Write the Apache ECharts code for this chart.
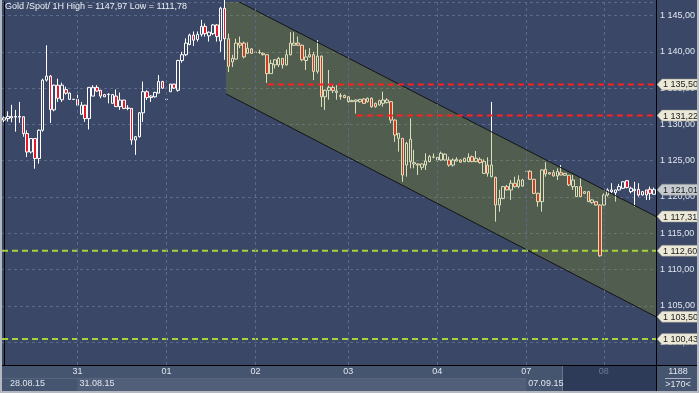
<!DOCTYPE html>
<html><head><meta charset="utf-8">
<script src="https://cdn.jsdelivr.net/npm/echarts@6/dist/echarts.min.js"></script>
<style>html,body{margin:0;padding:0;background:#3a4767;}#c{width:699px;height:393px;}</style>
</head><body><div id="c"></div>
<script>
const titleText = 'Gold /Spot/ 1H High = 1147,97 Low = 1111,78';
const dayNames = ['28','31','01','02','03','04','07','08'];
const dayStarts = [0,19,42,65,89,112,135,155];
const weekStarts = [0,19,135];
const weekLabels = ['28.08.15','31.08.15','07.09.15'];
const yMin = 1096.86, yMax = 1146.86;

const opens = [1130.6,1130.8,1131.1,1131.0,1131.0,1131.05,1128.75,1126.2,1128.05,1125.3,
1129.2,1136.1,1136.65,1132.0,1135.4,1133.4,1134.8,1133.45,1133.45,1133.45,
1131.4,1132.65,1130.8,1133.9,1135.1,1134.7,1133.8,1134.15,1132.9,1133.9,
1132.45,1133.35,1132.2,1132.2,1127.85,1128.3,1131.6,1134.5,1133.7,1133.8,
1134.3,1135.9,1133.45,1134.5,1135.55,1134.7,1138.8,1139.6,1141.0,1142.3,
1141.7,1142.4,1143.5,1142.2,1142.5,1143.7,1141.5,1146.0,1141.8,1138.6,
1139.0,1141.2,1141.2,1139.8,1140.4,1139.9,1139.9,1139.8,1139.6,1137.0,
1138.2,1138.2,1139.1,1138.2,1139.6,1140.9,1141.2,1140.9,1138.8,1139.3,
1139.6,1137.3,1139.4,1133.8,1134.7,1135.1,1134.4,1133.85,1134.0,1133.8,
1133.13,1133.18,1133.13,1133.5,1133.13,1133.6,1132.9,1132.67,1132.9,1133.0,
1133.13,1130.6,1128.08,1128.08,1124.4,1124.87,1124.55,1124.55,1124.09,1124.4,
1124.87,1125.5,1125.1,1125.1,1125.1,1125.1,1124.4,1124.96,1125.1,1124.87,
1124.87,1125.56,1124.87,1125.19,1123.26,1124.4,1122.8,1122.71,1118.9,1119.8,
1121.43,1120.97,1121.9,1121.43,1121.5,1123.54,1123.54,1122.44,1120.5,1119.36,
1123.81,1123.17,1123.35,1122.9,1123.35,1122.99,1122.99,1121.43,1120.05,1121.43,
1120.5,1120.74,1119.22,1119.36,1118.9,1118.9,1120.28,1120.74,1120.6,1120.97,
1121.2,1122.25,1120.74,1120.88,1121.06,1120.28,1120.97,1121.06,1120.37];
const highs = [1131.1,1131.8,1132.7,1132.0,1133.1,1131.1,1129.2,1128.1,1128.1,1129.3,
1136.3,1140.9,1136.8,1135.5,1136.3,1135.75,1135.2,1134.4,1133.5,1134.5,
1133.1,1132.7,1135.1,1135.4,1135.4,1134.7,1134.2,1134.3,1134.2,1134.8,
1134.4,1133.4,1132.65,1132.2,1128.4,1131.7,1135.9,1134.7,1134.0,1134.5,
1136.8,1136.0,1133.5,1135.6,1135.6,1138.9,1140.0,1141.85,1142.5,1142.8,
1142.8,1144.4,1143.9,1142.8,1143.8,1143.8,1146.2,1147.97,1142.5,1139.6,
1141.8,1142.1,1141.4,1141.3,1140.5,1140.0,1140.3,1139.9,1139.6,1138.9,
1139.0,1139.3,1139.1,1140.3,1142.7,1142.7,1142.1,1141.0,1140.3,1140.5,
1140.0,1141.6,1139.5,1134.8,1137.5,1135.4,1135.4,1134.3,1134.1,1133.9,
1133.4,1133.4,1133.5,1133.6,1133.7,1133.7,1133.0,1133.4,1134.5,1133.6,
1133.2,1130.7,1128.8,1128.1,1127.6,1130.84,1126.5,1124.6,1124.6,1126.02,
1125.79,1126.0,1125.5,1126.25,1126.0,1125.56,1125.33,1125.47,1125.2,1125.4,
1126.02,1125.7,1126.34,1125.47,1125.19,1125.47,1133.1,1122.8,1121.0,1121.5,
1121.66,1122.34,1122.8,1123.0,1122.5,1123.6,1123.7,1122.5,1120.6,1123.8,
1124.8,1123.4,1123.72,1123.95,1124.4,1123.3,1123.0,1123.03,1121.5,1122.57,
1120.8,1120.8,1119.7,1119.4,1119.0,1120.5,1121.2,1121.9,1121.0,1121.8,
1122.15,1122.35,1121.43,1122.1,1121.9,1120.8,1121.0,1121.43,1121.3];
const lows = [1130.3,1130.4,1130.3,1129.0,1130.2,1128.3,1125.5,1126.0,1123.9,1124.6,
1129.0,1135.9,1130.2,1131.8,1133.1,1133.1,1134.1,1133.4,1133.4,1132.45,
1131.3,1130.35,1129.3,1133.9,1134.5,1133.6,1133.8,1132.9,1132.9,1132.4,
1132.0,1132.1,1131.95,1127.2,1125.8,1128.2,1130.35,1133.35,1133.1,1133.7,
1134.3,1134.9,1133.4,1134.5,1134.9,1134.5,1138.5,1139.4,1140.9,1140.8,
1141.4,1142.1,1142.1,1141.4,1142.3,1141.4,1140.0,1138.9,1137.2,1137.9,
1138.9,1140.5,1139.1,1139.7,1139.7,1139.9,1139.7,1139.5,1135.7,1137.0,
1137.7,1137.9,1137.7,1138.1,1139.5,1140.8,1140.8,1138.7,1137.5,1139.2,
1136.1,1137.0,1132.4,1132.0,1133.4,1134.3,1133.4,1133.4,1133.6,1133.0,
1133.1,1131.5,1133.0,1132.8,1133.0,1132.3,1132.3,1132.6,1132.44,1132.9,
1130.15,1127.6,1126.25,1122.1,1122.8,1123.95,1123.95,1123.03,1123.72,1123.72,
1124.8,1125.33,1124.87,1125.0,1125.0,1124.18,1124.18,1124.9,1124.7,1124.8,
1124.8,1124.8,1124.8,1124.6,1123.2,1122.8,1122.7,1116.6,1117.98,1119.7,
1120.9,1119.6,1121.3,1121.2,1121.4,1123.5,1122.4,1120.4,1118.67,1117.98,
1122.8,1123.1,1122.8,1122.34,1123.0,1122.9,1121.5,1120.97,1120.0,1120.0,
1120.4,1119.3,1119.1,1118.8,1111.78,1118.8,1120.05,1120.5,1119.36,1120.9,
1121.1,1121.2,1120.5,1118.67,1120.05,1120.2,1119.6,1119.6,1120.3];
const closes = [1130.9,1131.1,1130.9,1131.1,1131.1,1128.75,1126.2,1128.05,1125.3,1129.2,
1136.1,1136.65,1132.05,1135.4,1133.6,1135.4,1134.3,1134.3,1133.45,1132.65,
1132.65,1130.8,1135.1,1135.1,1134.6,1133.9,1134.1,1134.1,1134.1,1132.45,
1133.35,1132.2,1132.25,1127.85,1128.3,1131.6,1134.5,1133.7,1133.9,1134.4,
1135.9,1135.0,1133.45,1135.55,1135.0,1138.8,1139.6,1141.2,1142.3,1141.6,
1142.4,1143.5,1142.5,1142.7,1143.7,1142.1,1146.0,1141.8,1138.0,1139.1,
1141.2,1140.9,1139.3,1140.5,1139.8,1139.95,1139.9,1139.6,1137.0,1138.4,
1138.9,1139.1,1138.2,1139.6,1141.2,1141.2,1140.9,1138.9,1139.3,1139.6,
1137.3,1139.4,1133.8,1134.7,1135.1,1134.65,1134.6,1134.0,1133.7,1133.13,
1133.27,1133.36,1133.45,1132.9,1133.6,1132.44,1132.44,1133.27,1133.36,1133.36,
1130.6,1128.54,1128.77,1123.03,1127.4,1127.95,1124.73,1124.4,1124.55,1124.96,
1125.56,1125.5,1125.47,1126.02,1125.9,1124.4,1125.1,1125.19,1124.8,1125.33,
1125.47,1124.87,1125.33,1124.73,1124.87,1123.26,1124.4,1118.9,1119.8,1121.43,
1120.97,1121.9,1121.43,1122.34,1122.34,1123.54,1122.44,1120.5,1119.36,1123.72,
1123.17,1123.35,1122.9,1123.5,1123.03,1123.26,1121.66,1122.34,1121.43,1120.05,
1120.74,1119.36,1119.6,1118.9,1111.9,1120.28,1120.97,1120.97,1120.97,1121.43,
1122.1,1121.3,1121.2,1121.06,1120.28,1120.74,1120.28,1120.5,1121.01];

// horizontal level lines: start (candle units), price, colour
const levelPrices = [1135.50, 1131.22, 1112.60, 1100.43];
const levelStarts = [68.2, 91.2, -0.5, -0.5];
const levelColors = ['#ff2020', '#ff2020', '#a4d23c', '#a4d23c'];
// channel: [candle unit, upper price, lower price]
const channelLeft = [57.4, 1147.8, 1134.2];
const channelRight = [168.5, 1117.31, 1103.5];
// right axis tags
const tagPrices = [1135.50, 1131.22, 1121.01, 1117.31, 1112.60, 1103.50, 1100.43];
const currentTag = 2;
const barCount = '1188', rangeText = '>170<';

const N = opens.length;
const categories = [];
for (let k = 0; k < N; k++) {
  let d = 0;
  for (let j = 0; j < dayStarts.length; j++) if (dayStarts[j] <= k) d = j;
  categories.push(dayNames[d] + ' ' + (k - dayStarts[d]));
}
const candleData = opens.map((o, i) => [o, closes[i], lows[i], highs[i]]);

function fmt(v) {
  const s = v.toFixed(2).replace('.', ',');
  return s.slice(0, s.length - 6) + ' ' + s.slice(s.length - 6);
}
const FONT = 'Liberation Sans';
const TXT = '#e2e6ee';

const chart = echarts.init(document.getElementById('c'), null, {renderer: 'canvas'});
const option = {
  animation: false,
  backgroundColor: '#3a4767',
  title: {text: titleText, left: 5, top: 2, padding: 0,
    textStyle: {color: '#eef1f6', fontSize: 9, fontWeight: 'normal', fontFamily: FONT}},
  grid: {left: 2, right: 43, top: 2, bottom: 28},
  xAxis: [
    {type: 'category', data: categories, boundaryGap: true,
      axisLine: {show: true, lineStyle: {color: '#000', width: 1}},
      axisTick: {show: false}, splitLine: {show: false},
      axisLabel: {interval: (i) => dayStarts.indexOf(i) > 0, margin: 2,
        color: TXT, fontSize: 9, fontFamily: FONT,
        formatter: (v, i) => { const d = dayStarts.indexOf(i); return d === dayStarts.length - 1 ? '{dim|' + dayNames[d] + '}' : dayNames[d]; },
        rich: {dim: {color: '#6e7c96', fontSize: 9, fontFamily: FONT}}}},
    {type: 'value', min: -0.5, max: N - 0.5, show: false},
    {type: 'category', data: categories, boundaryGap: true, position: 'bottom', offset: 13,
      axisLine: {show: false}, axisTick: {show: false}, splitLine: {show: false},
      axisLabel: {interval: (i) => weekStarts.indexOf(i) >= 0, margin: 1, align: 'left',
        color: TXT, fontSize: 9, fontFamily: FONT,
        formatter: (v, i) => { const w = weekStarts.indexOf(i); return (w === 0 ? '{a|' : '{b|') + weekLabels[w] + '}'; },
        rich: {a: {padding: [0, 0, 0, 6], color: TXT, fontSize: 9, fontFamily: FONT},
               b: {padding: [0, 0, 0, 2], color: TXT, fontSize: 9, fontFamily: FONT}}}}
  ],
  yAxis: [{type: 'value', position: 'right', min: yMin, max: yMax, splitNumber: 10, scale: true,
    axisLine: {show: true, lineStyle: {color: '#000', width: 1}},
    axisTick: {show: false},
    splitLine: {show: true, lineStyle: {color: '#5a6a8c', type: [3, 3], width: 1}},
    axisLabel: {color: TXT, fontSize: 9, fontFamily: FONT, margin: 4, formatter: fmt,
      showMinLabel: false, showMaxLabel: false}}],
  series: [
    {type: 'candlestick', xAxisIndex: 0, yAxisIndex: 0, data: candleData, barWidth: 3, z: 2, clip: true,
      itemStyle: {color: 'rgba(0,0,0,0)', color0: '#e8182a', borderColor: '#ffffff', borderColor0: '#ffffff', borderWidth: 1},
      markLine: {silent: true, symbol: ['none', 'none'], label: {show: false}, animation: false,
        lineStyle: {color: '#5a6a8c', type: [3, 3], width: 1},
        data: dayStarts.slice(1).map(k => ({xAxis: categories[k]}))}},
    {type: 'custom', xAxisIndex: 1, yAxisIndex: 0, clip: true, z: 3, silent: true,
      data: [[channelLeft[0], channelLeft[1]]],
      renderItem: (params, api) => {
        const a = api.coord([channelLeft[0], channelLeft[1]]);
        const b = api.coord([channelRight[0], channelRight[1]]);
        const c = api.coord([channelRight[0], channelRight[2]]);
        const d = api.coord([channelLeft[0], channelLeft[2]]);
        return {type: 'group', children: [
          {type: 'polygon', shape: {points: [a, b, c, d]}, style: {fill: 'rgba(135,145,22,0.3)'}},
          {type: 'line', shape: {x1: a[0], y1: a[1], x2: b[0], y2: b[1]}, style: {stroke: '#141414', lineWidth: 1}},
          {type: 'line', shape: {x1: d[0], y1: d[1], x2: c[0], y2: c[1]}, style: {stroke: '#141414', lineWidth: 1}}
        ]};
      }},
    {type: 'custom', xAxisIndex: 1, yAxisIndex: 0, clip: true, z: 4, silent: true,
      data: levelPrices.map((p, i) => [levelStarts[i], p, i]),
      renderItem: (params, api) => {
        const s = api.coord([api.value(0), api.value(1)]);
        const xe = params.coordSys.x + params.coordSys.width;
        return {type: 'line', shape: {x1: s[0], y1: s[1], x2: xe, y2: s[1]},
          style: {stroke: levelColors[api.value(2)], lineWidth: 2, lineDash: [6, 4]}};
      }},
    {type: 'custom', xAxisIndex: 1, yAxisIndex: 0, clip: false, z: 6, silent: true,
      data: tagPrices.map((p, i) => [0, p, i]),
      renderItem: (params, api) => {
        const y = api.coord([0, api.value(1)])[1];
        const x0 = params.coordSys.x + params.coordSys.width + 1;
        const h = 5.5, i = api.value(2);
        return {type: 'group', children: [
          {type: 'polygon', shape: {points: [[x0, y], [x0 + 5, y - h], [x0 + 41, y - h], [x0 + 41, y + h], [x0 + 5, y + h]]},
            style: {fill: i === currentTag ? '#c6cad1' : '#ebe8d7', stroke: '#8c8c84', lineWidth: 0.5}},
          {type: 'text', style: {text: fmt(tagPrices[i]), x: x0 + 6, y: y + 0.5, fill: '#1b1b1b',
            fontSize: 9, fontFamily: FONT, align: 'left', textAlign: 'left', verticalAlign: 'middle', textVerticalAlign: 'middle'}}
        ]};
      }}
  ]
};
chart.setOption(option);

// interface chrome around the plot, placed from the axis scales
const px = (k) => chart.convertToPixel({xAxisIndex: 0}, categories[k]);
const navStart = chart.convertToPixel({xAxisIndex: 1}, 144.2);
const gx0 = 2, gx1 = 656, gy1 = 365;
const txtStyle = (t, x, y) => ({type: 'text', x: x, y: y, z: 20,
  style: {text: t, fill: TXT, fontSize: 9, fontFamily: FONT, align: 'center', textAlign: 'center', verticalAlign: 'middle', textVerticalAlign: 'middle'}});
chart.setOption({graphic: [
  {type: 'rect', z: -5, shape: {x: 0, y: gy1, width: 699, height: 28}, style: {fill: '#45546f'}},
  {type: 'rect', z: -4, shape: {x: px(weekStarts[1]), y: 378, width: px(weekStarts[2]) - px(weekStarts[1]), height: 13}, style: {fill: '#525f79'}},
  {type: 'rect', z: -3, shape: {x: navStart, y: 366, width: gx1 - navStart, height: 25}, style: {fill: '#2d3b58'}},
  {type: 'line', z: -3, shape: {x1: navStart + 0.5, y1: 366, x2: navStart + 0.5, y2: 391}, style: {stroke: '#6b7891', lineWidth: 1}},
  {type: 'line', z: -2, shape: {x1: gx0, y1: 378.5, x2: px(weekStarts[2]), y2: 378.5}, style: {stroke: '#56647e', lineWidth: 1}},
  {type: 'line', z: 20, shape: {x1: 0, y1: gy1 + 0.5, x2: 699, y2: gy1 + 0.5}, style: {stroke: '#000', lineWidth: 1}},
  {type: 'line', z: 20, shape: {x1: gx1 + 0.5, y1: 0, x2: gx1 + 0.5, y2: 393}, style: {stroke: '#000', lineWidth: 1}},
  txtStyle(barCount, 678, 372),
  {type: 'line', z: 20, shape: {x1: 665, y1: 378.5, x2: 691, y2: 378.5}, style: {stroke: '#aab2c0', lineWidth: 1}},
  txtStyle(rangeText, 678, 385),
  {type: 'rect', z: 30, shape: {x: 0, y: 0, width: 2, height: 393}, style: {fill: '#b3b8c1'}},
  {type: 'rect', z: 30, shape: {x: 697, y: 0, width: 2, height: 393}, style: {fill: '#b3b8c1'}},
  {type: 'rect', z: 30, shape: {x: 0, y: 391, width: 699, height: 2}, style: {fill: '#b3b8c1'}}
]});
</script></body></html>
